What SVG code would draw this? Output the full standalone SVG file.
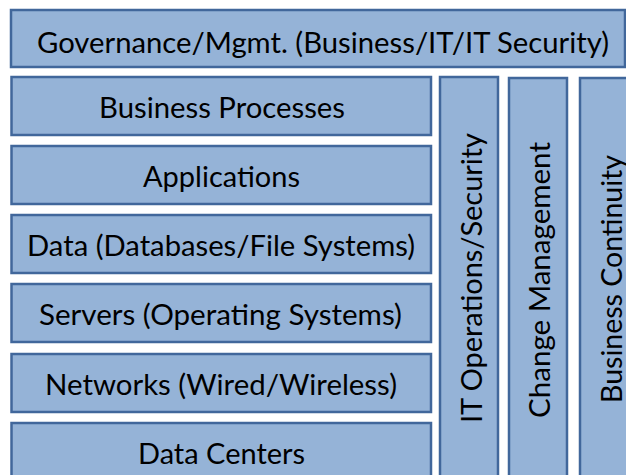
<svg xmlns="http://www.w3.org/2000/svg" width="626" height="475" viewBox="0 0 626 475">
<style>
.box{fill:#95b3d7;stroke:#41679b;stroke-width:2.5}
.lbl{font-family:Lato,"Open Sans",sans-serif;font-size:29px;fill:#000}
</style>
<rect width="626" height="475" fill="#fff"/>
<g id="governance"><rect class="box" x="11" y="10" width="614" height="57"/><text class="lbl" x="37" y="53" textLength="572" lengthAdjust="spacingAndGlyphs">Governance/Mgmt. (Business/IT/IT Security)</text></g>
<g id="business-processes"><rect class="box" x="11.5" y="77" width="419.5" height="58"/><text class="lbl" x="99" y="118" textLength="246" lengthAdjust="spacingAndGlyphs">Business Processes</text></g>
<g id="applications"><rect class="box" x="11.5" y="146" width="419.5" height="58"/><text class="lbl" x="143" y="187" textLength="157" lengthAdjust="spacingAndGlyphs">Applications</text></g>
<g id="data"><rect class="box" x="11.5" y="215" width="419.5" height="58"/><text class="lbl" x="27" y="256" textLength="388" lengthAdjust="spacingAndGlyphs">Data (Databases/File Systems)</text></g>
<g id="servers"><rect class="box" x="11.5" y="284" width="419.5" height="58"/><text class="lbl" x="39" y="325" textLength="363" lengthAdjust="spacingAndGlyphs">Servers (Operating Systems)</text></g>
<g id="networks"><rect class="box" x="11.5" y="354" width="419.5" height="58"/><text class="lbl" x="45" y="395" textLength="352" lengthAdjust="spacingAndGlyphs">Networks (Wired/Wireless)</text></g>
<g id="data-centers"><rect class="box" x="11.5" y="423" width="419.5" height="62"/><text class="lbl" x="138" y="464" textLength="167" lengthAdjust="spacingAndGlyphs">Data Centers</text></g>
<g id="it-operations"><rect class="box" x="440" y="77" width="58" height="404"/><text class="lbl" transform="translate(482,423) rotate(-90)" textLength="290" lengthAdjust="spacingAndGlyphs">IT Operations/Security</text></g>
<g id="change-management"><rect class="box" x="509" y="78" width="58" height="404"/><text class="lbl" transform="translate(550,418) rotate(-90)" textLength="276" lengthAdjust="spacingAndGlyphs">Change Management</text></g>
<g id="business-continuity"><rect class="box" x="580" y="78" width="58" height="404"/><text class="lbl" transform="translate(622,403) rotate(-90)" textLength="248" lengthAdjust="spacingAndGlyphs">Business Continuity</text></g>
<g id="connectors"/>
</svg>
